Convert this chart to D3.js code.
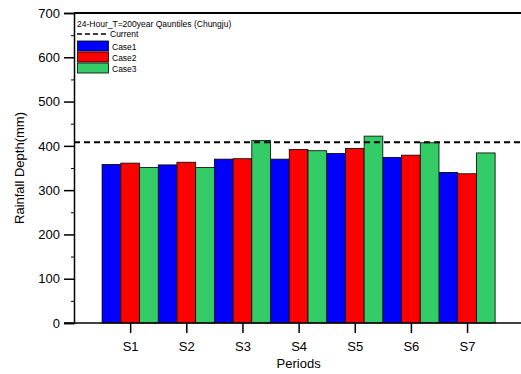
<!DOCTYPE html>
<html>
<head>
<meta charset="utf-8">
<script src="https://cdn.jsdelivr.net/npm/d3@7"></script>
<style>
  body { margin: 0; background: #fff; }
  text { font-family: "Liberation Sans", Arial, sans-serif; }
</style>
</head>
<body>
<div id="chart"></div>
<script>
const periods = ["S1", "S2", "S3", "S4", "S5", "S6", "S7"];
const case1 = [358, 357, 370, 370, 383, 374, 340];
const case2 = [361, 363, 371, 392, 394, 379, 337];
const case3 = [351, 351, 412, 389, 422, 407, 384];
const current = 408;
const yTicks = [0, 100, 200, 300, 400, 500, 600, 700];
const seriesNames = ["Case1", "Case2", "Case3"];
const seriesColors = ["#0000ff", "#ff0000", "#33cc66"];

const width = 521;
const height = 374;
const margin = { left: 74, top: 13, bottom: 51 };

const svg = d3
  .select("#chart")
  .append("svg")
  .attr("width", width)
  .attr("height", height);

const x = d3.scaleLinear().domain([0, 8]).range([margin.left, margin.left + 8 * 56.15]);
const y = d3.scaleLinear().domain([0, 700]).range([height - margin.bottom, margin.top]);
const bw = x(1) - x(0);
const barW = bw / 3;

const series = [case1, case2, case3];

// bars
series.forEach(function (vals, si) {
  svg
    .append("g")
    .selectAll("rect")
    .data(vals)
    .enter()
    .append("rect")
    .attr("x", (d, i) => x(i + 1) - bw / 2 + si * barW)
    .attr("y", (d) => y(d))
    .attr("width", barW)
    .attr("height", (d) => y(0) - y(d))
    .attr("fill", seriesColors[si])
    .attr("stroke", "#000")
    .attr("stroke-width", 0.8);
});

// current dashed line
svg
  .append("line")
  .attr("x1", x(0))
  .attr("x2", width)
  .attr("y1", y(current))
  .attr("y2", y(current))
  .attr("stroke", "#000")
  .attr("stroke-width", 2)
  .attr("stroke-dasharray", "6,4");

// top frame
svg
  .append("line")
  .attr("x1", x(0))
  .attr("x2", width)
  .attr("y1", y(700))
  .attr("y2", y(700))
  .attr("stroke", "#000")
  .attr("stroke-width", 2);

// y axis
const yAxis = svg
  .append("g")
  .attr("transform", `translate(${x(0)},0)`)
  .call(d3.axisLeft(y).tickValues(yTicks).tickSize(10).tickPadding(4));
yAxis.select(".domain").attr("stroke-width", 1.5);
yAxis.selectAll(".tick line").attr("stroke-width", 1.5);
yAxis.selectAll(".tick text").attr("font-size", 13).attr("fill", "#000");
svg
  .append("g")
  .attr("transform", `translate(${x(0)},0)`)
  .call(d3.axisLeft(y).tickValues(d3.range(50, 700, 100)).tickSize(3).tickFormat(""))
  .call((g) => g.select(".domain").remove());

// x axis
const xAxis = svg
  .append("g")
  .attr("transform", `translate(0,${y(0)})`)
  .call(
    d3
      .axisBottom(x)
      .tickValues(d3.range(1, 8))
      .tickFormat((d) => periods[d - 1])
      .tickSize(10)
      .tickPadding(9)
  );
xAxis.select(".domain").attr("d", `M${x(0) - 10},0H${width}`).attr("stroke-width", 1.5);
xAxis.selectAll(".tick line").attr("stroke-width", 1.5);
xAxis.selectAll(".tick text").attr("font-size", 13).attr("fill", "#000");

// axis titles
svg
  .append("text")
  .attr("x", x(4))
  .attr("y", 368)
  .attr("text-anchor", "middle")
  .attr("font-size", 13)
  .text("Periods");

svg
  .append("text")
  .attr("transform", `translate(24,${(y(0) + y(700)) / 2}) rotate(-90)`)
  .attr("text-anchor", "middle")
  .attr("font-size", 13)
  .text("Rainfall Depth(mm)");

// legend
const lg = svg.append("g").attr("transform", "translate(77,0)");
lg.append("text").attr("x", 0).attr("y", 27).attr("font-size", 8.5).text("24-Hour_T=200year Qauntiles (Chungju)");
lg.append("line")
  .attr("x1", 0)
  .attr("x2", 32)
  .attr("y1", 34)
  .attr("y2", 34)
  .attr("stroke", "#000")
  .attr("stroke-width", 1.5)
  .attr("stroke-dasharray", "5,3");
lg.append("text").attr("x", 33).attr("y", 37).attr("font-size", 8.5).text("Current");
seriesNames.forEach(function (name, i) {
  lg.append("rect")
    .attr("x", 0.5)
    .attr("y", 41 + i * 11)
    .attr("width", 31)
    .attr("height", 10)
    .attr("fill", seriesColors[i])
    .attr("stroke", "#000")
    .attr("stroke-width", 0.8);
  lg.append("text")
    .attr("x", 35)
    .attr("y", 49.5 + i * 11)
    .attr("font-size", 8.5)
    .text(name);
});
</script>
</body>
</html>
